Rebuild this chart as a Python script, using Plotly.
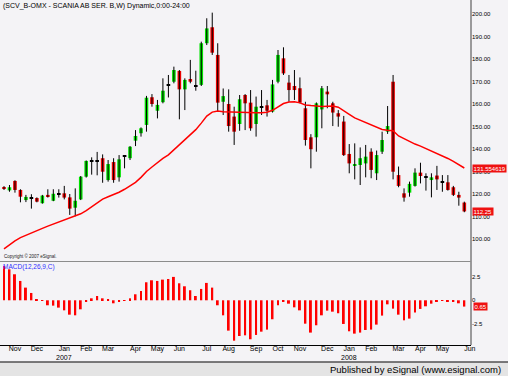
import plotly.graph_objects as go

# ---------------- data (weekly bars, 2006-10-16 .. 2008-05-26) ----------------
opens = [123.1, 121.6, 125.8, 121.8, 117.3, 118.3, 118.2, 115.9, 119.6, 117.0,
         119.9, 120.3, 118.5, 113.9, 117.6, 127.7, 134.7, 134.8, 135.9, 126.2,
         134.2, 127.4, 136.8, 135.9, 143.7, 147.0, 150.7, 163.0, 157.0, 160.8,
         168.4, 169.9, 174.7, 166.5, 171.1, 168.0, 168.5, 187.0, 194.1, 181.8,
         161.0, 160.0, 154.4, 151.1, 164.0, 160.6, 151.1, 158.8, 159.4, 156.6,
         169.9, 180.3, 169.5, 168.0, 167.0, 158.1, 145.2, 145.2, 157.6, 165.5,
         160.3, 155.9, 152.2, 137.8, 132.6, 132.9, 133.6, 138.8, 129.2, 138.8,
         147.7, 169.9, 128.4, 120.3, 120.6, 123.6, 129.5, 127.4, 126.2, 128.2,
         125.5, 125.2, 123.0, 119.6, 116.2]
highs = [123.5, 124.0, 126.1, 122.1, 119.6, 119.9, 118.5, 119.6, 122.1, 122.1,
         122.1, 123.6, 120.0, 122.5, 128.0, 134.9, 136.3, 138.7, 137.6, 135.1,
         135.9, 137.3, 137.3, 141.3, 148.4, 149.6, 163.6, 164.4, 161.8, 171.4,
         172.9, 176.6, 175.1, 171.4, 179.6, 174.8, 187.7, 198.1, 200.6, 187.0,
         166.9, 166.5, 158.8, 164.0, 164.4, 166.2, 163.3, 166.2, 161.8, 170.7,
         184.0, 185.2, 172.9, 175.1, 171.8, 161.0, 146.6, 160.7, 168.0, 168.0,
         161.0, 157.3, 154.7, 142.2, 142.5, 140.7, 141.8, 140.3, 139.3, 147.7,
         159.1, 172.9, 132.2, 122.5, 125.5, 131.4, 133.9, 129.2, 129.2, 132.5,
         128.4, 128.4, 123.6, 121.0, 116.6]
lows = [121.8, 121.0, 120.6, 116.3, 116.4, 113.5, 116.3, 115.7, 118.4, 116.8,
        118.4, 117.6, 110.7, 110.1, 117.3, 127.3, 128.6, 128.3, 125.0, 125.5,
        125.0, 125.5, 131.4, 135.1, 141.3, 145.5, 147.7, 158.8, 153.6, 160.3,
        162.9, 169.2, 153.2, 157.3, 169.2, 165.9, 168.0, 186.2, 181.8, 156.6,
        155.1, 147.7, 141.8, 148.1, 148.4, 148.1, 145.5, 155.1, 154.4, 156.2,
        169.2, 172.9, 161.0, 161.8, 160.3, 141.5, 131.4, 138.8, 149.2, 158.1,
        150.2, 149.9, 136.9, 129.2, 126.5, 124.0, 127.4, 127.0, 126.2, 137.8,
        146.7, 126.5, 123.0, 116.6, 118.8, 123.3, 124.7, 121.5, 118.5, 121.8,
        121.0, 121.5, 119.1, 114.8, 111.9]
closes = [122.4, 123.0, 121.8, 118.8, 118.7, 118.3, 116.6, 119.3, 118.8, 120.1,
          119.9, 118.4, 113.5, 117.0, 127.7, 134.7, 134.7, 134.8, 129.9, 133.3,
          126.2, 135.4, 136.8, 141.0, 145.8, 149.2, 162.8, 160.0, 159.6, 165.9,
          168.4, 175.1, 166.5, 170.7, 169.9, 168.0, 187.0, 193.6, 182.8, 160.6,
          163.5, 150.2, 147.7, 162.1, 160.3, 149.2, 158.8, 158.8, 157.0, 168.7,
          181.8, 173.6, 166.2, 166.2, 160.6, 144.0, 139.9, 160.3, 167.0, 164.3,
          156.2, 154.4, 137.3, 133.6, 133.1, 135.9, 136.6, 130.7, 137.3, 144.0,
          150.2, 129.9, 123.6, 118.4, 124.5, 129.5, 128.0, 127.4, 127.4, 126.5,
          125.5, 121.8, 119.6, 118.4, 112.25]
ma = [95.6, 97.5, 99.2, 100.6, 101.7, 102.7, 103.7, 104.7, 105.7, 106.6,
      107.5, 108.4, 109.4, 110.3, 111.2, 112.6, 114.3, 116.2, 117.7, 118.8,
      119.7, 120.8, 122.1, 123.5, 125.2, 127.4, 130.0, 132.0, 134.0, 135.8,
      137.4, 139.6, 142.0, 144.4, 146.6, 148.6, 151.5, 154.6, 156.4, 156.9,
      156.6, 156.5, 156.2, 156.3, 156.1, 156.0, 156.1, 156.1, 156.3, 157.2,
      158.9, 160.2, 160.9, 161.0, 160.5, 159.6, 159.3, 159.0, 158.9, 159.0,
      159.1, 158.6, 156.8, 155.4, 153.8, 152.8, 151.8, 150.8, 149.6, 148.7,
      148.3, 148.1, 145.8, 144.5, 143.3, 142.2, 141.3, 140.2, 139.2, 138.3,
      137.2, 135.8, 134.5, 133.0, 131.55]
macd = [3.66, 3.30, 2.77, 2.06, 1.35, 0.78, 0.14, -0.07, -0.53, -0.57,
        -0.78, -1.07, -1.53, -1.60, -0.96, -0.14, 0.21, 0.46, 0.21, 0.11,
        -0.32, -0.11, 0.02, 0.21, 0.64, 0.99, 1.92, 2.13, 2.06, 2.20,
        2.27, 2.49, 1.81, 1.49, 1.07, 0.46, 1.21, 1.85, 1.35, -0.53,
        -1.60, -3.23, -4.30, -3.80, -3.73, -4.15, -3.69, -3.34, -3.12, -2.02,
        -0.53, -0.14, -0.36, -0.75, -1.07, -2.49, -3.44, -2.66, -1.60, -1.10,
        -1.21, -1.38, -2.52, -3.30, -3.55, -3.44, -3.16, -3.12, -2.59, -1.63,
        -0.43, -0.89, -1.53, -2.13, -1.95, -1.31, -0.92, -0.64, -0.36, -0.11,
        -0.07, -0.11, -0.14, -0.32, -0.67]
month_pos = [2, 6, 11, 15, 19, 24, 28, 32, 37, 41, 46, 50, 54, 59, 63, 67, 72, 76, 80, 85]
month_text = ["Nov", "Dec", "Jan", "Feb", "Mar", "Apr", "May", "Jun", "Jul", "Aug",
              "Sep", "Oct", "Nov", "Dec", "Jan", "Feb", "Mar", "Apr", "May", "Jun"]
year_pos = [11, 63]
year_text = ["2007", "2008"]
price_ticks = [100, 110, 120, 130, 140, 150, 160, 170, 180, 190, 200]
macd_ticks = [2.5, 0, -2.5]
macd_tick_text = ["2.5", "0", "-2.5"]
title_text = "(SCV_B-OMX - SCANIA AB SER. B,W) Dynamic,0:00-24:00"
ma_label = "131.554619"
macd_label = "0.65"

# ---------------- geometry ----------------
W, H = 508, 376
BG = "#f4f3f6"
FONT = "Liberation Sans"
x_right = 471 / W
price_dom = [1 - 261 / H, 1.0]
macd_dom = [1 - 345 / H, 1 - 263 / H]

n = len(closes)
idx = list(range(n))

wx, wy = [], []
for i in idx:
    wx += [i, i, None]
    wy += [lows[i], highs[i], None]

body_base, body_h, body_col = [], [], []
for o, c in zip(opens, closes):
    if abs(c - o) < 0.05:
        body_base.append(o - 0.25)
        body_h.append(0.5)
        body_col.append("#000000")
    else:
        body_base.append(min(o, c))
        body_h.append(abs(c - o))
        body_col.append("#00e000" if c > o else "#e80000")

fig = go.Figure()
fig.add_trace(go.Scatter(x=wx, y=wy, mode="lines", line=dict(color="#000000", width=1),
                         xaxis="x", yaxis="y", hoverinfo="skip", showlegend=False))
fig.add_trace(go.Bar(x=idx, y=body_h, base=body_base, width=0.66,
                     marker=dict(color=body_col, line=dict(width=0)),
                     xaxis="x", yaxis="y", showlegend=False))
fig.add_trace(go.Scatter(x=idx, y=ma, mode="lines", line=dict(color="#ff0000", width=1.5),
                         xaxis="x", yaxis="y", showlegend=False))
fig.add_trace(go.Bar(x=idx, y=macd, width=0.36,
                     marker=dict(color="#ff0000", line=dict(width=0)),
                     xaxis="x", yaxis="y2", showlegend=False))

fig.update_layout(
    width=W, height=H, margin=dict(l=0, r=0, t=0, b=0, autoexpand=False),
    paper_bgcolor=BG, plot_bgcolor=BG, barmode="overlay", showlegend=False,
    font=dict(family=FONT, color="#000000"),
    xaxis=dict(domain=[0, x_right], range=[-0.73, 85.22], anchor="y2", automargin=False,
               tickmode="array", tickvals=month_pos, ticktext=month_text,
               ticks="", ticklabelstandoff=-3, showgrid=False, zeroline=False, showline=True,
               linecolor="#000000", linewidth=1,
               tickfont=dict(size=7, family=FONT, color="#000000")),
    yaxis=dict(domain=price_dom, range=[90.22, 206.22], anchor="x", side="right",
               automargin=False,
               tickmode="array", tickvals=price_ticks,
               ticktext=[f"{v:.2f}" for v in price_ticks], ticks="",
               showgrid=False, zeroline=False, showline=False,
               tickfont=dict(size=6, family=FONT, color="#000000")),
    yaxis2=dict(domain=macd_dom, range=[-4.76, 3.97], anchor="x", side="right",
                automargin=False,
                tickmode="array", tickvals=macd_ticks, ticktext=macd_tick_text, ticks="",
                showgrid=False, zeroline=False, showline=False,
                tickfont=dict(size=6, family=FONT, color="#000000")),
)

shapes = [
    dict(type="line", xref="paper", yref="paper", x0=x_right, x1=x_right,
         y0=1 - 345 / H, y1=1, line=dict(color="#404040", width=1)),
    dict(type="line", xref="paper", yref="paper", x0=0, x1=x_right,
         y0=1 - 261.5 / H, y1=1 - 261.5 / H, line=dict(color="#8c8c8c", width=1)),
    dict(type="rect", xref="paper", yref="paper", x0=0, x1=1, y0=0, y1=1 - 362.5 / H,
         fillcolor="#e4e4e4", line=dict(width=0)),
    dict(type="line", xref="paper", yref="paper", x0=0, x1=1,
         y0=1 - 362 / H, y1=1 - 362 / H, line=dict(color="#000000", width=1)),
]
fig.update_layout(shapes=shapes)

ann = [
    dict(text=title_text, xref="paper", yref="paper", x=1 / W, y=1 - 5.5 / H,
         xanchor="left", yanchor="middle", showarrow=False,
         font=dict(size=7, family=FONT, color="#000000")),
    dict(text="Copyright \u00a9 2007 eSignal.", xref="paper", yref="paper", x=2 / W, y=1 - 256 / H,
         xanchor="left", yanchor="middle", showarrow=False,
         font=dict(size=4.5, family=FONT, color="#202020")),
    dict(text="MACD(12,26,9,C)", xref="paper", yref="paper", x=1 / W, y=1 - 267 / H,
         xanchor="left", yanchor="middle", showarrow=False,
         font=dict(size=6.5, family=FONT, color="#3030ff")),
    dict(text=ma_label, xref="paper", yref="y", x=472 / W, y=ma[-1],
         xanchor="left", yanchor="middle", showarrow=False, bgcolor="#ee1111",
         borderpad=0.5, font=dict(size=6, family=FONT, color="#ffffff")),
    dict(text=f"{closes[-1]:.2f}", xref="paper", yref="y", x=472 / W, y=closes[-1],
         xanchor="left", yanchor="middle", showarrow=False, bgcolor="#ee1111",
         borderpad=0.5, font=dict(size=6, family=FONT, color="#ffffff")),
    dict(text=macd_label, xref="paper", yref="y2", x=473 / W, y=macd[-1] + 0.02,
         xanchor="left", yanchor="middle", showarrow=False, bgcolor="#ee1111",
         borderpad=0.5, font=dict(size=6, family=FONT, color="#ffffff")),
    dict(text="Published by eSignal (www.esignal.com)", xref="paper", yref="paper",
         x=503 / W, y=1 - 369 / H, xanchor="right", yanchor="middle", showarrow=False,
         font=dict(size=9.5, family=FONT, color="#000000")),
]
for xp, yt in zip(year_pos, year_text):
    ann.append(dict(text=yt, xref="x", yref="paper", x=xp, y=1 - 357.5 / H,
                    xanchor="center", yanchor="middle", showarrow=False,
                    font=dict(size=7, family=FONT, color="#000000")))
fig.update_layout(annotations=ann)

fig.write_html("out.html", config={"displayModeBar": False},
               post_script="document.body.style.margin='0';document.body.style.padding='0';"
                           "document.body.style.overflow='hidden';")
